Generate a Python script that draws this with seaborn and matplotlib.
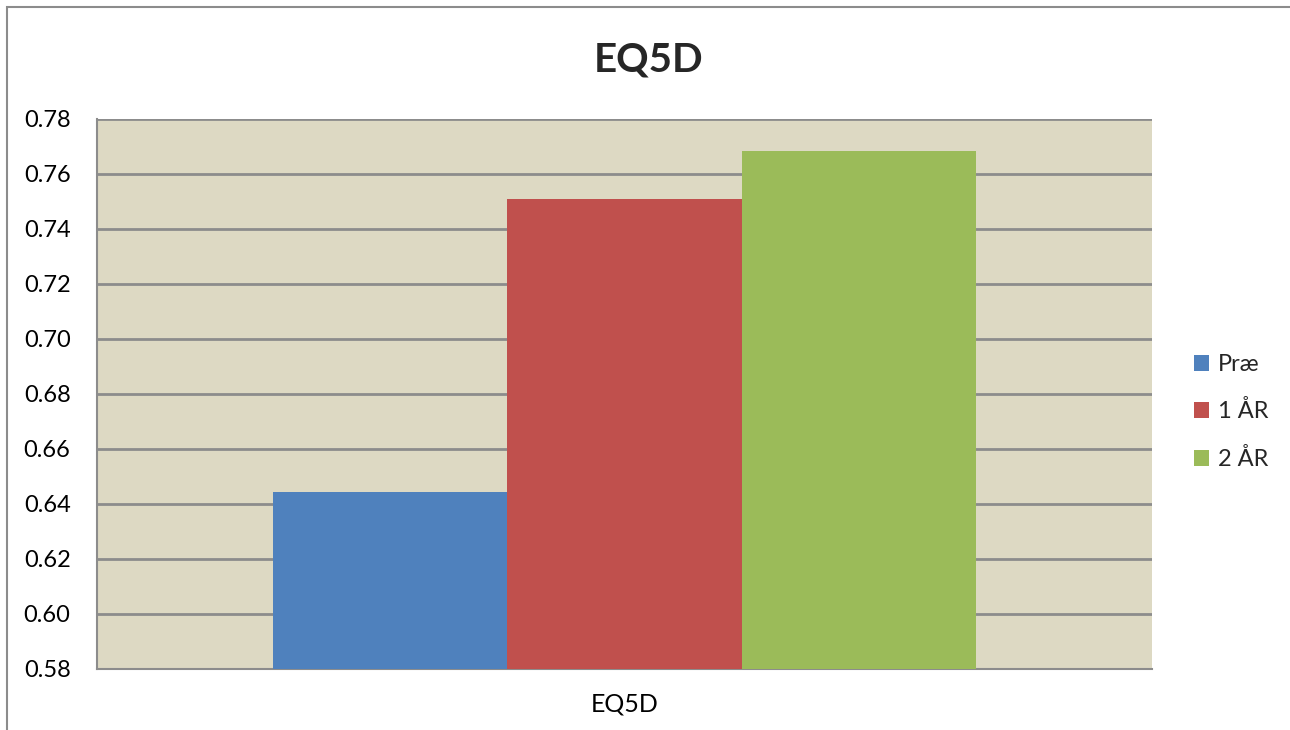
import pandas as pd
import numpy as np
import matplotlib.pyplot as plt
import seaborn as sns
from matplotlib.patches import Rectangle

# data
category = ['EQ5D']
series = ['Præ', '1 ÅR', '2 ÅR']
values = [0.6444, 0.7509, 0.7684]
colors = ['#4F81BD', '#C0504D', '#9BBB59']

df = pd.DataFrame({
    'kategori': category * len(series),
    'serie': series,
    'værdi': values
})

sns.set_style('white')
plt.rcParams['font.family'] = ['Lato', 'DejaVu Sans']

fig = plt.figure(figsize=(12.9, 7.3), dpi=100)
ax = fig.add_axes([97 / 1290, 61 / 730, 1055 / 1290, 550 / 730])
ax.set_facecolor('#DDD9C3')

sns.barplot(data=df, x='kategori', y='værdi', hue='serie', palette=colors,
            width=0.667, gap=0, saturation=1, ax=ax, zorder=3, linewidth=0)

yt = np.arange(0.58, 0.7801, 0.02)
ax.set_ylim(0.58, 0.78)
ax.set_yticks(yt)
ax.set_yticklabels([f'{t:.2f}' for t in yt])
ax.set_xlim(-0.5, 0.5)
ax.yaxis.grid(True, color='#8C8C8C', linewidth=2, zorder=0)
ax.set_axisbelow(True)
ax.tick_params(axis='y', length=0, labelsize=17, colors='black', pad=19)
ax.tick_params(axis='x', length=0, labelsize=18, colors='black', pad=17)
ax.set_xlabel('')
ax.set_ylabel('')
for side in ['top', 'right']:
    ax.spines[side].set_visible(False)
for side in ['left', 'bottom']:
    ax.spines[side].set_color('#8C8C8C')
    ax.spines[side].set_linewidth(1.5)

fig.text(649 / 1290, 1 - 60 / 730, 'EQ5D', ha='center', va='center',
         fontsize=29, fontweight='bold')

leg = ax.legend(loc='center left', bbox_to_anchor=(1194 / 1290, 1 - 412 / 730),
                bbox_transform=fig.transFigure, frameon=False, fontsize=17,
                handlelength=0.65, handleheight=0.65, handletextpad=0.35,
                labelspacing=1.08, borderaxespad=0, borderpad=0)

# chart border
fig.patches.append(Rectangle((7 / 1290, -0.1), 1.2, 1 - 7 / 730 + 0.1,
                             transform=fig.transFigure, fill=False,
                             edgecolor='#8C8C8C', linewidth=1.5))

fig.savefig('out.png', dpi=100)
